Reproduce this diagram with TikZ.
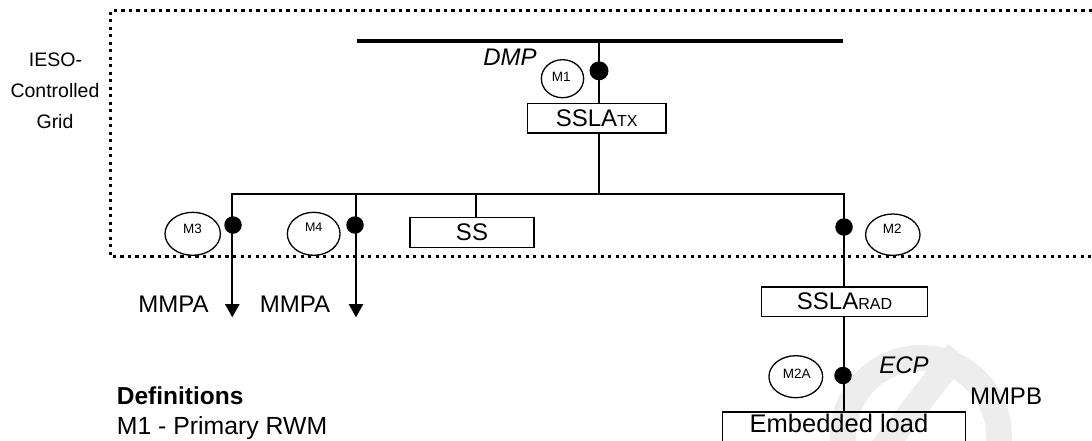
\documentclass[tikz,border=0pt]{standalone}
\usepackage{fontspec}
\setmainfont{Liberation Sans}
\usetikzlibrary{arrows.meta,shapes.geometric}
\newcommand\subcaps[1]{{\fontsize{16}{18}\selectfont #1}}
\definecolor{wmark}{HTML}{EDEDED}
\begin{document}
\begin{tikzpicture}[x=1pt,y=-1pt,
  big/.style={font=\fontsize{24}{28}\selectfont, inner sep=0pt},
  grid/.style={font=\fontsize{19.5}{23}\selectfont, inner sep=0pt, anchor=base},
  mlbl/.style={font=\fontsize{13.5}{15}\selectfont, inner sep=0pt, anchor=base},
  meter/.style={draw, ellipse, line width=1.3pt, inner sep=0pt},
  jdot/.style={circle, fill=black, inner sep=0pt, minimum size=#1},
  box/.style={draw, line width=1.7pt, fill=white, inner sep=0pt,
    font=\fontsize{24}{28}\selectfont},
  wire/.style={line width=1.9pt},
  frame/.style={line width=3.3pt, dash pattern=on 3.3pt off 4.2pt}]
\clip (0,0) rectangle (1092,440);
\useasboundingbox (0,0) rectangle (1092,440);

% faint watermark
\draw[wmark, line width=26pt] (921,436) ++(172:78) arc (172:368:78);
\draw[wmark, line width=26pt] (958,352) -- (880,452);

% dotted frame of the IESO-controlled grid
\coordinate (f1) at (1092,10.3);
\coordinate (f2) at (110.7,10.3);
\coordinate (f3) at (110.7,256.7);
\coordinate (f4) at (1092,256.7);
\draw[frame] (f1) -- (f2) -- (f3) -- (f4);

\node[grid] (g1) at (55.5,66.7) {IESO-};
\node[grid] (g2) at (55,97.3) {Controlled};
\node[grid] (g3) at (55,128.3) {Grid};

% buses and junctions
\coordinate (b1L) at (356.7,41.3);
\coordinate (b1R) at (843.3,41.3);
\coordinate (t1) at (599,41.3);
\coordinate (jA) at (232.3,194);
\coordinate (jB) at (356,194);
\coordinate (jS) at (476,194);
\coordinate (jT) at (599,194);
\coordinate (jR) at (844,194);
\coordinate (endA) at (232.3,317.3);
\coordinate (endB) at (356,317.3);

% boxes
\node[box, minimum width=138.4pt, minimum height=29.7pt] (tx) at (596.7,118.3) {SSLA\subcaps{TX}};
\node[box, minimum width=124.4pt, minimum height=30pt] (ss) at (472,232.5) {SS};
\node[box, minimum width=166pt, minimum height=29.7pt] (rad) at (844.5,301.7) {SSLA\subcaps{RAD}};
\node[box, fill=none, minimum width=243pt, minimum height=45pt, anchor=north] (emb) at (844,411) {};

% wires
\draw[line width=3.8pt] (b1L) -- (b1R);
\draw[wire] (t1) -- (tx.north -| t1);
\draw[wire] (tx.south -| t1) -- (jT);
\draw[wire, line cap=rect] (jA) -- (jR);
\draw[wire] (jR) -- (rad.north -| jR);
\draw[wire] (rad.south -| jR) -- (emb.north -| jR);
\draw[wire] (jS) -- (ss.north -| jS);
\draw[wire, -{Triangle[width=14.3pt,length=13.3pt]}] (jA) -- (endA);
\draw[wire, -{Triangle[width=14.3pt,length=13.3pt]}] (jB) -- (endB);

% meter points
\node[jdot=19pt] (d1) at (599,70.8) {};
\node[jdot=17.5pt] (d3) at (233,225) {};
\node[jdot=17.5pt] (d4) at (355,225) {};
\node[jdot=17.5pt] (dR) at (844,227) {};
\node[jdot=17.5pt] (d2A) at (843,375.5) {};

% meters
\node[meter, minimum width=42.3pt, minimum height=38pt] (m1) at (562.5,78.7) {};
\node[mlbl] (m1t) at (561.3,81) {M1};
\node[font=\fontsize{6}{6}\selectfont, text=gray, inner sep=0pt] (m1d) at (562.7,89.5) {.};
\node[meter, minimum width=55.4pt, minimum height=43pt] (m3) at (192.7,233.8) {};
\node[mlbl] (m3t) at (192.5,233.3) {M3};
\node[meter, minimum width=52.7pt, minimum height=43pt] (m4) at (313.7,233.8) {};
\node[mlbl, font=\fontsize{12.5}{14}\selectfont] (m4t) at (313.7,231.7) {M4};
\node[meter, minimum width=54.4pt, minimum height=41.4pt] (m2) at (892.8,234.7) {};
\node[mlbl] (m2t) at (892.2,233.3) {M2};
\node[meter, minimum width=53.7pt, minimum height=42pt] (m2a) at (795.8,376.7) {};
\node[mlbl] (m2at) at (796.7,378.3) {M2A};

% labels
\node[big, anchor=base, font=\fontsize{24}{28}\selectfont\itshape] (dmp) at (510,65.7) {DMP};
\node[big, anchor=base, font=\fontsize{24}{28}\selectfont\itshape] (ecp) at (904,373.3) {ECP};
\node[big, anchor=base] (mmpa1) at (173.5,312.7) {MMPA};
\node[big, anchor=base] (mmpa2) at (295,312.7) {MMPA};
\node[big, anchor=base] (mmpb) at (1006,404) {MMPB};
\node[big, anchor=base, font=\fontsize{25.5}{28}\selectfont] (embt) at (839,432.7) {Embedded load};
\node[big, anchor=base west, font=\fontsize{24.5}{28}\selectfont\bfseries] (defs) at (116.7,404.5) {Definitions};
\node[big, anchor=base west, font=\fontsize{24.8}{28}\selectfont] (def1) at (116.7,434.5) {M1 - Primary RWM};
\end{tikzpicture}
\end{document}
